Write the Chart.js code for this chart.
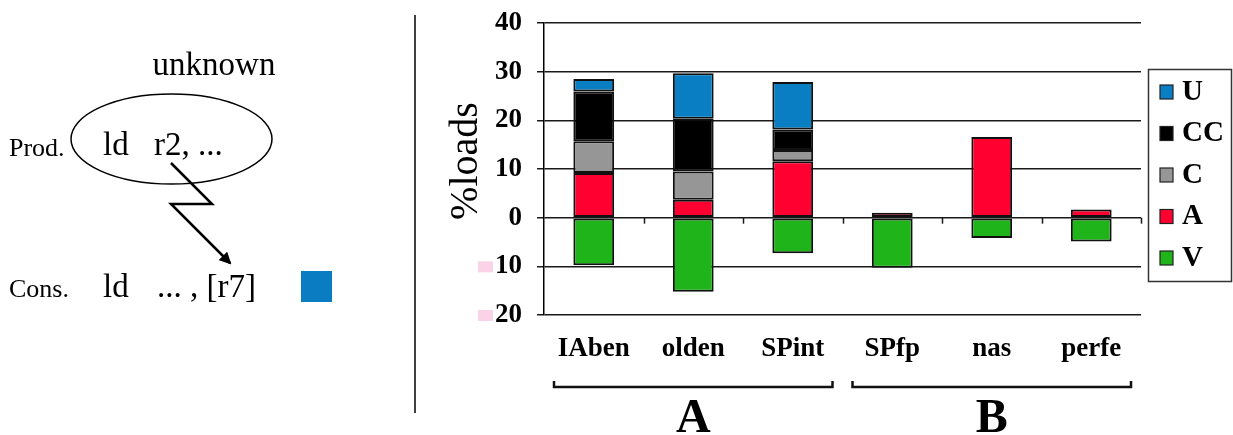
<!DOCTYPE html>
<html>
<head>
<meta charset="utf-8">
<title>%loads by benchmark</title>
<script src="https://cdn.jsdelivr.net/npm/chart.js@4/dist/chart.umd.min.js"></script>
<style>
  html, body { margin: 0; padding: 0; background: #fff; }
  #wrap { position: relative; width: 1233px; height: 435px; overflow: hidden; }
  #chart { position: absolute; left: 0; top: 0; }
  #diagram { position: absolute; left: 0; top: 0; }
  #diagram text { font-family: "Liberation Serif", "Times New Roman", serif; fill: #000; }
</style>
</head>
<body>
<div id="wrap">
  <canvas id="chart" width="1233" height="435"></canvas>
  <svg id="diagram" width="420" height="435" viewBox="0 0 420 435">
    <defs>
      <marker id="head" markerWidth="12" markerHeight="12" refX="10" refY="6" orient="auto" markerUnits="userSpaceOnUse">
        <path d="M0,0 L12,6 L0,12 z" fill="#000"/>
      </marker>
    </defs>
    <text x="214" y="75" font-size="33" text-anchor="middle">unknown</text>
    <ellipse cx="171.5" cy="139" rx="100.5" ry="45" fill="none" stroke="#000" stroke-width="1.5"/>
    <text x="9" y="156" font-size="26">Prod.</text>
    <text x="103" y="155" font-size="33">ld</text>
    <text x="154" y="155" font-size="33">r2, ...</text>
    <polyline points="171,163 212,204 171,204 230,263" fill="none" stroke="#000" stroke-width="2.5" marker-end="url(#head)"/>
    <text x="9" y="297" font-size="26">Cons.</text>
    <text x="103" y="297" font-size="33">ld</text>
    <text x="157" y="297" font-size="33">... , [r7]</text>
    <rect x="301" y="271" width="31" height="31" fill="#0A7CC2"/>
    <line x1="415" y1="15" x2="415" y2="413" stroke="#000" stroke-width="1.5"/>
  </svg>
</div>
<script>
// Benchmarks and their grouping
const categories = ['IAben', 'olden', 'SPint', 'SPfp', 'nas', 'perfe'];
const groupNames = ['A', 'B'];
const groupStart = [0, 3];
const groupEnd = [2, 5];

// Share of loads (%) per class; V is counted below zero
const valuesV = [-9.8, -15.2, -7.3, -10.3, -4.2, -4.9];
const valuesA = [9.2, 3.7, 11.6, 1.0, 16.6, 1.7];
const valuesC = [6.5, 5.8, 2.3, null, null, null];
const valuesCC = [10.2, 10.8, 4.2, null, null, null];
const valuesU = [2.6, 9.4, 9.8, null, null, null];

// Value axis
const yMin = -20;
const yMax = 40;
const yStep = 10;

const SERIF = '"Liberation Serif", "Times New Roman", serif';
const colors = { U: '#0A7EC2', CC: '#000000', C: '#969696', A: '#FF0030', V: '#1FB51A' };
const legendOrder = ['U', 'CC', 'C', 'A', 'V'];

function dataset(label, data) {
  return {
    label, data,
    backgroundColor: colors[label],
    borderColor: '#111',
    borderWidth: 2,
    borderSkipped: false,
    barPercentage: 0.41,
    categoryPercentage: 1.0
  };
}

const extras = {
  id: 'extras',
  afterDatasetsDraw(chart) {
    const ctx = chart.ctx;
    const x = chart.scales.x;
    const y = chart.scales.y;
    const zeroY = y.getPixelForValue(0);
    const step = x.getPixelForValue(1) - x.getPixelForValue(0);

    ctx.save();
    // small separator ticks under the zero line
    ctx.strokeStyle = '#1a1a1a';
    ctx.lineWidth = 1.5;
    for (let i = 0; i < categories.length; i++) {
      const px = Math.round(x.getPixelForValue(i) + step / 2) + 0.5;
      ctx.beginPath();
      ctx.moveTo(px, zeroY);
      ctx.lineTo(px, zeroY + 6);
      ctx.stroke();
    }

    // minus marks before negative tick labels
    ctx.fillStyle = '#FAD3E8';
    y.ticks.forEach(t => {
      if (t.value < 0) {
        const py = y.getPixelForValue(t.value);
        ctx.fillRect(478, py - 5, 15, 11);
      }
    });

    // value axis title
    ctx.fillStyle = '#000';
    ctx.font = '40px ' + SERIF;
    ctx.textAlign = 'center';
    ctx.textBaseline = 'middle';
    ctx.translate(466, (y.getPixelForValue(yMin) + y.getPixelForValue(yMax)) / 2 - 8);
    ctx.rotate(-Math.PI / 2);
    ctx.fillText('%loads', 0, 0);
    ctx.restore();

    // group brackets and names
    ctx.save();
    ctx.strokeStyle = '#111';
    ctx.fillStyle = '#000';
    ctx.lineWidth = 2.5;
    groupNames.forEach((name, g) => {
      const left = x.getPixelForValue(groupStart[g]) - step / 2 + 10;
      const right = x.getPixelForValue(groupEnd[g]) + step / 2 - 10;
      const by = 387;
      ctx.beginPath();
      ctx.moveTo(left, by - 6);
      ctx.lineTo(left, by);
      ctx.lineTo(right, by);
      ctx.lineTo(right, by - 6);
      ctx.stroke();
      ctx.font = 'bold 48px ' + SERIF;
      ctx.textAlign = 'center';
      ctx.textBaseline = 'alphabetic';
      ctx.fillText(name, (left + right) / 2, 432);
    });
    ctx.restore();

    // legend
    ctx.save();
    ctx.strokeStyle = '#333';
    ctx.lineWidth = 1.5;
    ctx.strokeRect(1148.5, 69.5, 83, 212);
    ctx.font = 'bold 29px ' + SERIF;
    ctx.textAlign = 'left';
    ctx.textBaseline = 'alphabetic';
    legendOrder.forEach((key, i) => {
      const cy = 92 + i * 41.5;
      ctx.fillStyle = colors[key];
      ctx.fillRect(1160, cy - 7, 13, 14);
      ctx.strokeStyle = '#222';
      ctx.lineWidth = 1.2;
      ctx.strokeRect(1160, cy - 7, 13, 14);
      ctx.fillStyle = '#000';
      ctx.fillText(key, 1182, cy + 7.5);
    });
    ctx.restore();
  }
};

new Chart(document.getElementById('chart'), {
  type: 'bar',
  data: {
    labels: categories,
    datasets: [
      dataset('V', valuesV),
      dataset('A', valuesA),
      dataset('C', valuesC),
      dataset('CC', valuesCC),
      dataset('U', valuesU)
    ]
  },
  options: {
    responsive: false,
    animation: false,
    devicePixelRatio: 1,
    layout: { padding: { left: 420, right: 92, top: 23, bottom: 0 } },
    plugins: { legend: { display: false }, tooltip: { enabled: false } },
    scales: {
      x: {
        stacked: true,
        offset: true,
        grid: { display: false, drawTicks: false },
        border: { display: false },
        ticks: { color: '#000', padding: 18, font: { family: SERIF, size: 27, weight: 'bold' }, maxRotation: 0, autoSkip: false },
        afterFit: s => { s.height = 120; s.paddingLeft = 0; s.paddingRight = 0; }
      },
      y: {
        stacked: true,
        min: yMin,
        max: yMax,
        grid: { color: '#1a1a1a', lineWidth: 1.5, tickLength: 7, drawTicks: true },
        border: { display: true, color: '#000', width: 1.5 },
        ticks: {
          stepSize: yStep,
          color: '#000',
          padding: 15,
          font: { family: SERIF, size: 27, weight: 'bold' },
          callback: v => String(Math.abs(v))
        },
        afterFit: s => { s.width = 124; s.paddingTop = 0; s.paddingBottom = 0; }
      }
    }
  },
  plugins: [extras]
});
</script>
</body>
</html>
